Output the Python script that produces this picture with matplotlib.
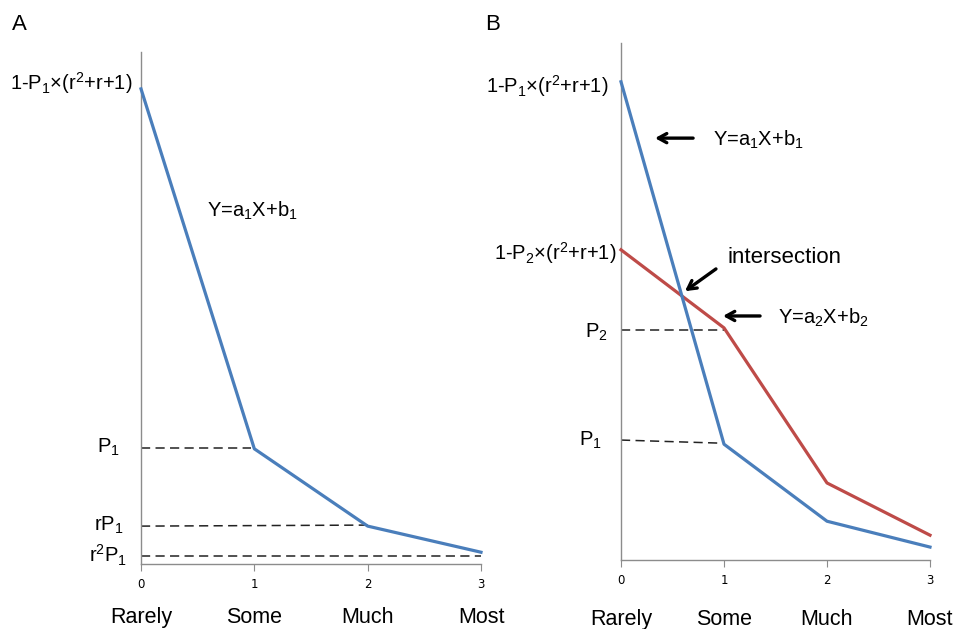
import matplotlib
matplotlib.use("Agg")
import matplotlib.pyplot as plt
import matplotlib.transforms as mtransforms

plt.rcParams['font.family'] = ['Liberation Sans', 'DejaVu Sans']
plt.rcParams['mathtext.fontset'] = 'custom'
plt.rcParams['mathtext.rm'] = 'Liberation Sans'
plt.rcParams['mathtext.it'] = 'Liberation Sans:italic'

# values (y in axis fraction)
x = [0, 1, 2, 3]
categories = ["Rarely", "Some", "Much", "Most"]
a_blue = [0.928, 0.225, 0.074, 0.023]
b_blue = [0.925, 0.224, 0.075, 0.025]
b_red = [0.600, 0.449, 0.149, 0.048]

# dashed guide lines: (x0, x1, y0, y1)
a_guides = [(0, 0.97, 0.227, 0.227), (0, 2, 0.074, 0.076), (0, 3, 0.0156, 0.0156)]
b_guides = [(0, 1, 0.445, 0.445), (0, 0.97, 0.232, 0.226)]

BLUE = "#4a7ebb"
RED = "#be4b48"
AXCOL = "#8c8c8c"

P1_LAB = r'1-P$\mathregular{_1}$×(r$\mathregular{^2}$+r+1)'
P2_LAB = r'1-P$\mathregular{_2}$×(r$\mathregular{^2}$+r+1)'

fig = plt.figure(figsize=(9.66, 6.29), dpi=100)
ax_a = fig.add_axes([141 / 966, 65 / 629, 340 / 966, 512 / 629])
ax_b = fig.add_axes([621 / 966, 69 / 629, 309 / 966, 517 / 629])


def style_axes(ax, cat_y):
    ax.set_xlim(0, 3)
    ax.set_ylim(0, 1)
    for s in ["top", "right"]:
        ax.spines[s].set_visible(False)
    for s in ["left", "bottom"]:
        ax.spines[s].set_color(AXCOL)
        ax.spines[s].set_linewidth(1)
    ax.set_yticks([])
    ax.set_xticks(x)
    ax.tick_params(axis="x", direction="out", length=5, color=AXCOL, pad=5)
    for lab in ax.get_xticklabels():
        lab.set_fontfamily("DejaVu Sans")
        lab.set_fontsize(8.5)
    trans = mtransforms.blended_transform_factory(ax.transData, ax.transAxes)
    for xi, c in zip(x, categories):
        ax.text(xi, cat_y, c, transform=trans, ha="center", va="center",
                fontsize=15.5, clip_on=False)


def guides(ax, gl):
    for x0, x1, y0, y1 in gl:
        ax.plot([x0, x1], [y0, y1], color="#222222", lw=1.1,
                dashes=(6, 3.5), clip_on=False, zorder=2)


# ---- panel A
style_axes(ax_a, -0.105)
guides(ax_a, a_guides)
ax_a.plot(x, a_blue, color=BLUE, lw=2.3, clip_on=False, zorder=3)
ax_a.text(-0.08, 0.94, P1_LAB, ha="right", va="center", fontsize=14.5)
ax_a.text(-0.185, 0.227, r'P$\mathregular{_1}$', ha="right", va="center", fontsize=14.5)
ax_a.text(-0.155, 0.076, r'rP$\mathregular{_1}$', ha="right", va="center", fontsize=14.5)
ax_a.text(-0.125, 0.016, r'r$\mathregular{^2}$P$\mathregular{_1}$', ha="right", va="center", fontsize=14.5)
ax_a.text(0.58, 0.69, r'Y=a$\mathregular{_1}$X+b$\mathregular{_1}$', ha="left", va="center", fontsize=14.5)

# ---- panel B
style_axes(ax_b, -0.116)
guides(ax_b, b_guides)
ax_b.plot(x, b_red, color=RED, lw=2.3, clip_on=False, zorder=3)
ax_b.plot(x, b_blue, color=BLUE, lw=2.3, clip_on=False, zorder=3)
ax_b.text(-0.126, 0.917, P1_LAB, ha="right", va="center", fontsize=14.5)
ax_b.text(-0.04, 0.594, P2_LAB, ha="right", va="center", fontsize=14.5)
ax_b.text(-0.126, 0.441, r'P$\mathregular{_2}$', ha="right", va="center", fontsize=14.5)
ax_b.text(-0.184, 0.232, r'P$\mathregular{_1}$', ha="right", va="center", fontsize=14.5)
ax_b.text(0.893, 0.812, r'Y=a$\mathregular{_1}$X+b$\mathregular{_1}$', ha="left", va="center", fontsize=14.5)
ax_b.text(1.03, 0.586, "intersection", ha="left", va="center", fontsize=16)
ax_b.text(1.524, 0.468, r'Y=a$\mathregular{_2}$X+b$\mathregular{_2}$', ha="left", va="center", fontsize=14.5)

arrow = dict(arrowstyle="->,head_length=0.6,head_width=0.33", color="black", lw=2.4,
             shrinkA=0, shrinkB=0)
ax_b.annotate("", xy=(0.33, 0.816), xytext=(0.70, 0.816), arrowprops=arrow)
ax_b.annotate("", xy=(0.621, 0.520), xytext=(0.922, 0.563), arrowprops=arrow)
ax_b.annotate("", xy=(0.99, 0.472), xytext=(1.35, 0.472), arrowprops=arrow)

fig.text(12 / 966, 1 - 25 / 629, "A", fontsize=16, va="center", ha="left")
fig.text(485 / 966, 1 - 25 / 629, "B", fontsize=16, va="center", ha="left")

fig.savefig("out.png", dpi=100, facecolor="white")
